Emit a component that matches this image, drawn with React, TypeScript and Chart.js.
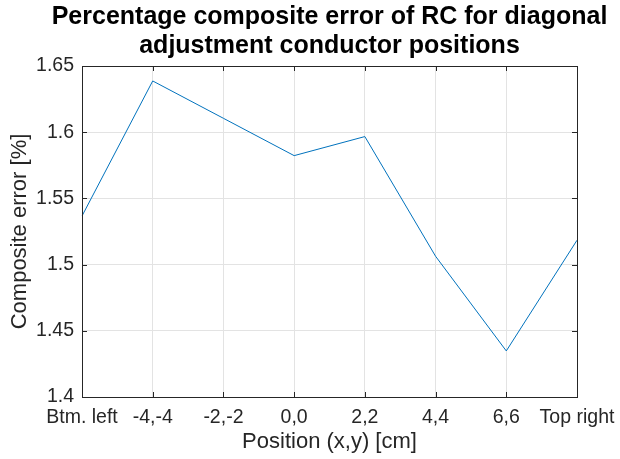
import React, { useEffect, useRef } from "react";
import { Chart, registerables } from "chart.js";

Chart.register(...registerables);

const categories = ["Btm. left", "-4,-4", "-2,-2", "0,0", "2,2", "4,4", "6,6", "Top right"];
const compositeError = [1.5367, 1.6387, 1.6105, 1.5823, 1.5967, 1.5063, 1.4348, 1.5184];
const yMin = 1.4;
const yMax = 1.65;
const yStep = 0.05;
const titleLines = ["Percentage composite error of RC for diagonal", "adjustment conductor positions"];

const FONT = '"Liberation Sans", Arial, Helvetica, sans-serif';
const AXIS_COLOR = "#262626";

const boxPlugin = {
  id: "matlabBox",
  afterLayout(chart: any) {
    const tb = chart.titleBlock;
    if (tb) {
      const c = (chart.chartArea.left + chart.chartArea.right) / 2;
      tb.left = c - 300;
      tb.right = c + 300;
    }
  },
  afterDatasetsDraw(chart: any) {
    const { ctx, chartArea, scales } = chart;
    const { left, right, top, bottom } = chartArea;
    const al = (v: number) => Math.round(v) + 0.5;
    const tl = 5;
    ctx.save();
    ctx.strokeStyle = AXIS_COLOR;
    ctx.lineWidth = 1;
    ctx.beginPath();
    const xs = scales.x;
    xs.ticks.forEach((_t: any, i: number) => {
      const px = al(xs.getPixelForTick(i));
      ctx.moveTo(px, bottom);
      ctx.lineTo(px, bottom - tl);
      ctx.moveTo(px, top);
      ctx.lineTo(px, top + tl);
    });
    const ys = scales.y;
    ys.ticks.forEach((_t: any, i: number) => {
      const py = al(ys.getPixelForTick(i));
      ctx.moveTo(left, py);
      ctx.lineTo(left + tl, py);
      ctx.moveTo(right, py);
      ctx.lineTo(right - tl, py);
    });
    ctx.stroke();
    ctx.strokeRect(al(left), al(top), Math.round(right) - Math.round(left), Math.round(bottom) - Math.round(top));
    ctx.restore();
  },
};

export default function App() {
  const ref = useRef<HTMLCanvasElement | null>(null);

  useEffect(() => {
    if (!ref.current) return;
    const chart = new Chart(ref.current, {
      type: "line",
      data: {
        labels: categories,
        datasets: [
          {
            data: compositeError,
            borderColor: "#0072BD",
            borderWidth: 1,
            pointRadius: 0,
            tension: 0,
            fill: false,
          },
        ],
      },
      options: {
        responsive: false,
        animation: false,
        devicePixelRatio: 1,
        layout: { padding: { left: 0, right: 43, top: 0, bottom: 0 } },
        plugins: {
          legend: { display: false },
          tooltip: { enabled: false },
          title: {
            display: true,
            text: titleLines,
            color: "#000000",
            font: { family: FONT, size: 25, weight: "bold", lineHeight: 29 / 25 },
            padding: { top: 3, bottom: 5 },
          },
        },
        scales: {
          x: {
            type: "category",
            offset: false,
            grid: { color: "#e3e3e3", drawTicks: false },
            border: { display: false },
            ticks: {
              color: AXIS_COLOR,
              font: { family: FONT, size: 19.5 },
              padding: 9,
              maxRotation: 0,
              minRotation: 0,
              autoSkip: false,
            },
            title: {
              display: true,
              text: "Position (x,y) [cm]",
              color: AXIS_COLOR,
              font: { family: FONT, size: 22 },
              padding: { top: 0, bottom: 4 },
            },
            afterFit(scale: any) {
              scale.height = 62;
              scale.paddingLeft = 0;
              scale.paddingRight = 0;
            },
          },
          y: {
            min: yMin,
            max: yMax,
            grid: { color: "#e3e3e3", drawTicks: false },
            border: { display: false },
            ticks: {
              stepSize: yStep,
              color: AXIS_COLOR,
              font: { family: FONT, size: 19.5 },
              padding: 8,
              callback: (v: any) => String(Number(Number(v).toFixed(2))),
            },
            title: {
              display: true,
              text: "Composite error [%]",
              color: AXIS_COLOR,
              font: { family: FONT, size: 22 },
              padding: { top: 7, bottom: 0 },
            },
            afterFit(scale: any) {
              scale.width = 82;
              scale.paddingTop = 0;
              scale.paddingBottom = 0;
            },
          },
        },
      },
      plugins: [boxPlugin],
    });
    return () => chart.destroy();
  }, []);

  return (
    <div style={{ position: "fixed", left: 0, top: 0, width: 620, height: 459, background: "#fff" }}>
      <canvas ref={ref} width={620} height={459} style={{ width: 620, height: 459 }} />
    </div>
  );
}
